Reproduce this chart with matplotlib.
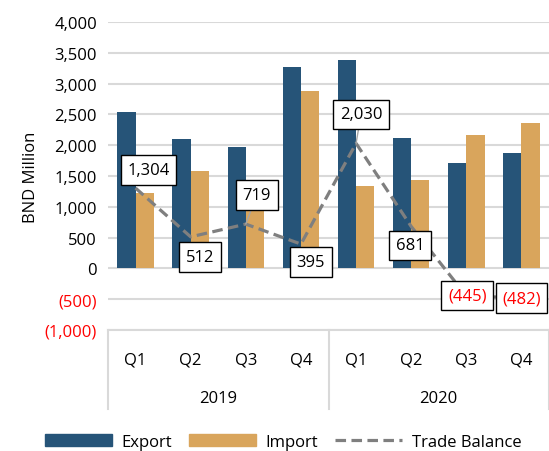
import matplotlib
matplotlib.use("Agg")
import matplotlib.pyplot as plt
import numpy as np
from matplotlib.patches import Patch
from matplotlib.lines import Line2D
import matplotlib.transforms as mtransforms

plt.rcParams['font.family'] = ['Open Sans', 'DejaVu Sans']

quarters = ["Q1", "Q2", "Q3", "Q4", "Q1", "Q2", "Q3", "Q4"]
years = ["2019", "2020"]
export = [2535, 2093, 1967, 3268, 3377, 2125, 1718, 1880]
imports = [1231, 1582, 1248, 2873, 1345, 1442, 2163, 2362]
balance = [1304, 512, 719, 395, 2030, 681, -445, -482]
yticks = [-1000, -500, 0, 500, 1000, 1500, 2000, 2500, 3000, 3500, 4000]

# label offsets in pixels (dx, dy) and whether to draw leader line
label_offsets = [(13, 18), (9, -20), (11, 29), (10, -18), (5, 29), (-1, -19), (1, 0), (0, 0)]
leader = [False, False, True, False, True, False, False, False]

c_exp = "#265478"
c_imp = "#D9A55C"
c_bal = "#7F7F7F"
grid_c = "#D9D9D9"
fs = 12
dash = (0, (3.3, 1.7))

fig = plt.figure(figsize=(5.49, 4.52), dpi=100)
ax = fig.add_axes([108/549, 1-331/452, 1-108/549, 308/452])

x = np.arange(len(quarters))
w = 0.33
ax.bar(x - w/2, export, w, color=c_exp, zorder=2)
ax.bar(x + w/2, imports, w, color=c_imp, zorder=2)
ax.plot(x, balance, color=c_bal, lw=2.3, ls=dash, zorder=3)

def fmt(v):
    if v < 0:
        return "({:,})".format(-v)
    return "{:,}".format(v)

for i, v in enumerate(balance):
    col = "red" if v < 0 else "black"
    ap = dict(arrowstyle='-', color="#A6A6A6", lw=1, shrinkA=0, shrinkB=0) if leader[i] else None
    ax.annotate(fmt(v), (x[i], v), xytext=label_offsets[i], textcoords='offset pixels',
                ha='center', va='center', fontsize=fs, color=col, zorder=5,
                bbox=dict(boxstyle='square,pad=0.4', fc='white', ec='black', lw=1),
                arrowprops=ap)

ax.set_xlim(-0.5, len(quarters) - 0.5)
ax.set_ylim(-1000, 4000)
ax.set_yticks(yticks)
ax.set_yticklabels([fmt(t) for t in yticks], fontsize=fs)
for lbl, t in zip(ax.get_yticklabels(), yticks):
    if t < 0:
        lbl.set_color("red")
ax.tick_params(axis='y', length=0, pad=8)
ax.set_xticks([])
ax.grid(axis='y', color=grid_c, lw=1.5, zorder=0)
ax.set_axisbelow(True)
for s in ['top', 'right', 'left']:
    ax.spines[s].set_visible(False)
ax.spines['bottom'].set_color(grid_c)
ax.spines['bottom'].set_linewidth(1.5)
ax.set_ylabel("BND Million", fontsize=fs, labelpad=4)

trans = mtransforms.blended_transform_factory(ax.transData, ax.transAxes)
for i, q in enumerate(quarters):
    ax.text(x[i], -0.097, q, transform=trans, ha='center', va='center', fontsize=fs)
for j, yr in enumerate(years):
    ax.text(j*4 + 1.5, -0.222, yr, transform=trans, ha='center', va='center', fontsize=fs)
for xs in [-0.5, 3.5, 7.5]:
    ax.add_line(Line2D([xs, xs], [0, -0.256], transform=trans, color=grid_c, lw=1.5, clip_on=False))

handles = [Patch(color=c_exp, label="Export"), Patch(color=c_imp, label="Import"),
           Line2D([], [], color=c_bal, lw=2.3, ls=dash, label="Trade Balance")]
fig.legend(handles=handles, loc='center', bbox_to_anchor=(0.516, 0.021), ncol=3, frameon=False,
           fontsize=fs, handlelength=4, handletextpad=0.6, columnspacing=1.0, handleheight=0.7)

fig.savefig("out.png", dpi=100)
